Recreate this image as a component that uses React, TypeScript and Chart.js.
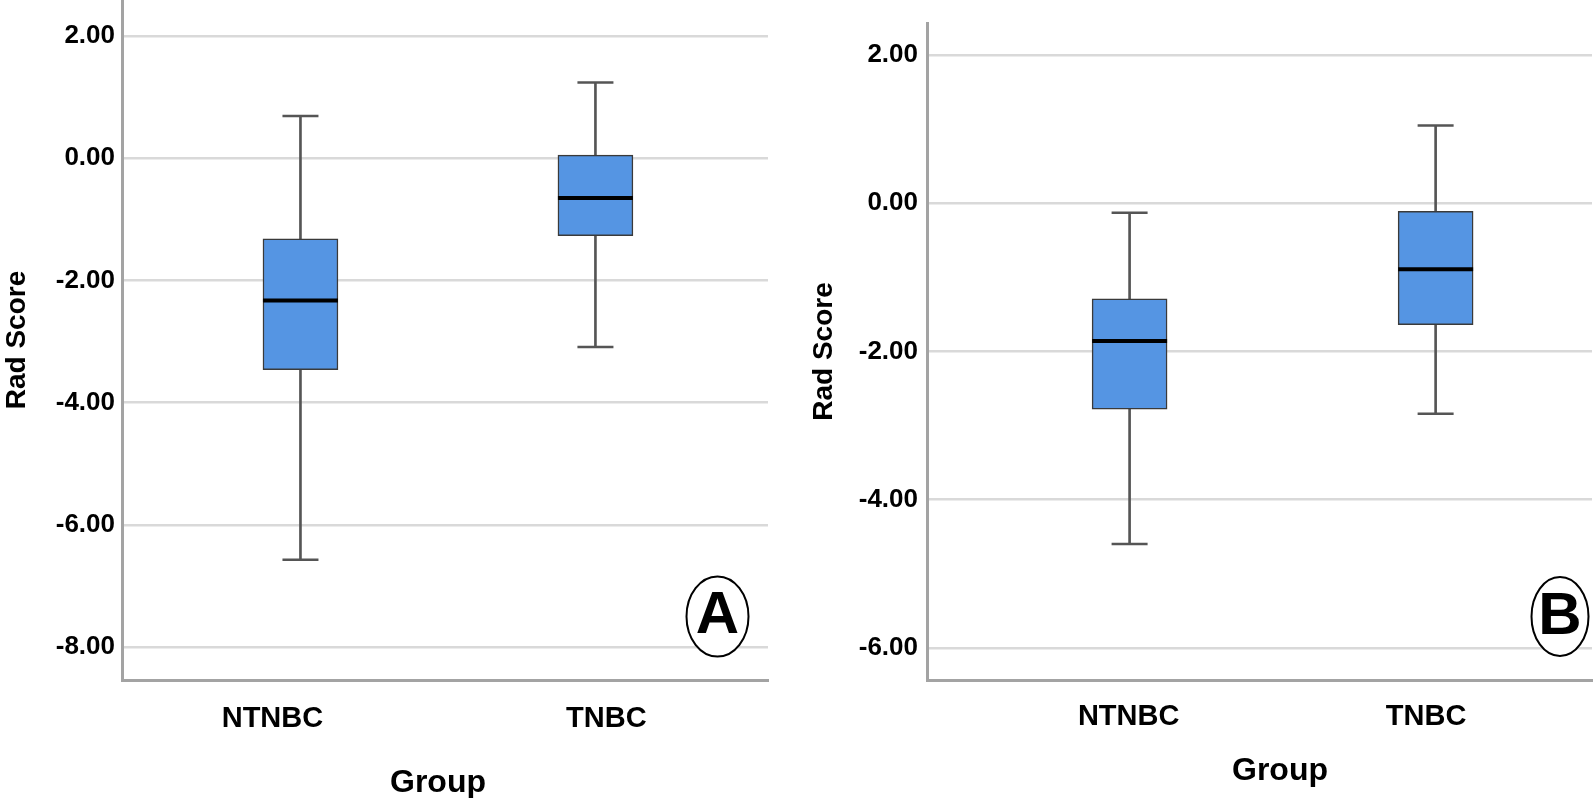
import React, { useEffect, useRef } from 'react';
import { Chart, registerables } from 'chart.js';

Chart.register(...registerables);

// ---------- data ----------
const categories = ['NTNBC', 'TNBC'];

// Panel A (five-number summaries per category)
const aWhiskerLow = [-6.57, -3.09];
const aQ1 = [-3.46, -1.27];
const aMedian = [-2.33, -0.65];
const aQ3 = [-1.32, 0.05];
const aWhiskerHigh = [0.69, 1.24];
const aYTicks = [2, 0, -2, -4, -6, -8];

// Panel B
const bWhiskerLow = [-4.6, -2.84];
const bQ1 = [-2.78, -1.64];
const bMedian = [-1.86, -0.89];
const bQ3 = [-1.29, -0.11];
const bWhiskerHigh = [-0.13, 1.05];
const bYTicks = [2, 0, -2, -4, -6];

const yTitle = 'Rad Score';
const xTitle = 'Group';

// ---------- styling / layout ----------
const FONT = "'Liberation Sans', Arial, Helvetica, sans-serif";
const BOX_FILL = '#5595e3';
const BOX_EDGE = '#3a3a3a';
const WHISKER = '#555555';
const GRID = '#d9d9d9';
const AXIS = '#a3a3a3';

type Panel = {
  letter: string;
  low: number[]; q1: number[]; med: number[]; q3: number[]; high: number[];
  yTicks: number[];
  left: number; width: number;
  yMin: number; yMax: number; xMin: number; xMax: number;
  yAxisWidth: number; padTop: number; padRight: number; xAxisHeight: number;
  labelShift: number[]; tickPadX: number; tickPadY: number; yTitlePad: number;
  xTitlePos: { dx: number; y: number };
  badge: { cx: number; cy: number; rx: number; ry: number; ty: number };
};

const panels: Panel[] = [
  {
    letter: 'A',
    low: aWhiskerLow, q1: aQ1, med: aMedian, q3: aQ3, high: aWhiskerHigh,
    yTicks: aYTicks,
    left: 0, width: 800,
    yMin: -8.54, yMax: 2.589, xMin: -0.605, xMax: 1.585,
    yAxisWidth: 122, padTop: 0, padRight: 32, xAxisHeight: 118,
    labelShift: [-0.095, 0.037], tickPadX: 22, tickPadY: 7, yTitlePad: 3,
    xTitlePos: { dx: -7, y: 783 },
    badge: { cx: 717.5, cy: 616.5, rx: 31, ry: 40, ty: 633 },
  },
  {
    letter: 'B',
    low: bWhiskerLow, q1: bQ1, med: bMedian, q3: bQ3, high: bWhiskerHigh,
    yTicks: bYTicks,
    left: 810, width: 784,
    yMin: -6.435, yMax: 2.432, xMin: -0.662, xMax: 1.511,
    yAxisWidth: 117, padTop: 23, padRight: 2, xAxisHeight: 118,
    labelShift: [-0.003, -0.031], tickPadX: 20, tickPadY: 9, yTitlePad: 0,
    xTitlePos: { dx: 20.5, y: 771 },
    badge: { cx: 750, cy: 616.5, rx: 28.5, ry: 39.5, ty: 633.5 },
  },
];

const badgePlugin = {
  id: 'badge',
  afterDraw(chart: any, _args: any, opts: any) {
    const { ctx } = chart;
    ctx.save();
    ctx.beginPath();
    ctx.ellipse(opts.cx, opts.cy, opts.rx, opts.ry, 0, 0, Math.PI * 2);
    ctx.fillStyle = '#ffffff';
    ctx.fill();
    ctx.lineWidth = 2;
    ctx.strokeStyle = '#000000';
    ctx.stroke();
    ctx.font = `bold 60px ${FONT}`;
    ctx.textAlign = 'center';
    ctx.textBaseline = 'alphabetic';
    ctx.fillStyle = '#000000';
    ctx.fillText(opts.text, opts.cx, opts.ty);
    ctx.restore();
  },
};

// x-axis title, centred on the plot area with a small horizontal nudge
const xTitlePlugin = {
  id: 'xTitle',
  afterDraw(chart: any, _args: any, opts: any) {
    const { ctx, chartArea } = chart;
    ctx.save();
    ctx.font = `bold 32px ${FONT}`;
    ctx.textAlign = 'center';
    ctx.textBaseline = 'middle';
    ctx.fillStyle = '#000000';
    ctx.fillText(opts.text, (chartArea.left + chartArea.right) / 2 + opts.dx, opts.y);
    ctx.restore();
  },
};

function BoxPanel({ p }: { p: Panel }) {
  const ref = useRef<HTMLCanvasElement>(null);
  useEffect(() => {
    const idx = categories.map((_, i) => i);
    const chart = new Chart(ref.current as HTMLCanvasElement, {
      type: 'bar',
      data: {
        datasets: [
          {
            type: 'bar',
            label: 'whisker',
            data: idx.map((i) => ({ x: i, y: [p.low[i], p.high[i]] })) as any,
            backgroundColor: WHISKER,
            barThickness: 2,
            grouped: false,
            order: 4,
          } as any,
          {
            type: 'bar',
            label: 'box',
            data: idx.map((i) => ({ x: i, y: [p.q1[i], p.q3[i]] })) as any,
            backgroundColor: BOX_FILL,
            borderColor: BOX_EDGE,
            borderWidth: 1.5,
            borderSkipped: false,
            barThickness: 75,
            grouped: false,
            order: 3,
          } as any,
          {
            type: 'line',
            label: 'caps',
            data: [
              ...idx.map((i) => ({ x: i, y: p.low[i] })),
              ...idx.map((i) => ({ x: i, y: p.high[i] })),
            ],
            showLine: false,
            pointStyle: 'line',
            pointRadius: 18,
            pointHoverRadius: 18,
            pointBorderWidth: 2.5,
            pointBorderColor: WHISKER,
            order: 2,
          } as any,
          {
            type: 'line',
            label: 'median',
            data: idx.map((i) => ({ x: i, y: p.med[i] })),
            showLine: false,
            pointStyle: 'line',
            pointRadius: 37.5,
            pointHoverRadius: 37.5,
            pointBorderWidth: 4,
            pointBorderColor: '#000000',
            order: 1,
          } as any,
        ],
      },
      options: {
        responsive: false,
        animation: false,
        devicePixelRatio: 1,
        events: [],
        layout: {
          autoPadding: false,
          padding: { left: 0, top: p.padTop, right: p.padRight, bottom: 0 },
        },
        plugins: {
          legend: { display: false },
          tooltip: { enabled: false },
          badge: { ...p.badge, text: p.letter },
          xTitle: { ...p.xTitlePos, text: xTitle },
        } as any,
        scales: {
          x: {
            type: 'linear',
            min: p.xMin,
            max: p.xMax,
            offset: false,
            grid: { display: false, drawTicks: false },
            border: { display: true, color: AXIS, width: 3 },
            afterBuildTicks: (scale: any) => {
              scale.ticks = idx.map((i) => ({ value: i + p.labelShift[i] }));
            },
            afterFit: (scale: any) => {
              scale.height = p.xAxisHeight;
              scale.paddingLeft = 0;
              scale.paddingRight = 0;
            },
            ticks: {
              autoSkip: false,
              maxRotation: 0,
              padding: p.tickPadX,
              color: '#000',
              font: { family: FONT, size: 29, weight: 'bold' },
              callback: (_v: any, index: number) => categories[index],
            },
            title: { display: false },
          } as any,
          y: {
            type: 'linear',
            min: p.yMin,
            max: p.yMax,
            grid: { color: GRID, lineWidth: 2.5, drawTicks: false },
            border: { display: true, color: AXIS, width: 3 },
            afterBuildTicks: (scale: any) => {
              scale.ticks = p.yTicks.map((v) => ({ value: v }));
            },
            afterFit: (scale: any) => {
              scale.width = p.yAxisWidth;
              scale.paddingTop = 0;
              scale.paddingBottom = 0;
            },
            ticks: {
              padding: p.tickPadY,
              color: '#000',
              font: { family: FONT, size: 26, weight: 'bold' },
              callback: (v: any) => Number(v).toFixed(2),
            },
            title: {
              display: true,
              text: yTitle,
              color: '#000',
              padding: { top: p.yTitlePad, bottom: 0 },
              font: { family: FONT, size: 28, weight: 'bold', lineHeight: 1 },
            },
          } as any,
        },
      },
      plugins: [badgePlugin as any, xTitlePlugin as any],
    });
    return () => chart.destroy();
  }, [p]);

  return (
    <canvas
      ref={ref}
      width={p.width}
      height={798}
      style={{ position: 'absolute', left: p.left, top: 0, width: p.width, height: 798 }}
    />
  );
}

export default function App() {
  return (
    <div
      style={{
        position: 'fixed',
        left: 0,
        top: 0,
        width: 1594,
        height: 798,
        background: '#ffffff',
        overflow: 'hidden',
      }}
    >
      {panels.map((p) => (
        <BoxPanel key={p.letter} p={p} />
      ))}
    </div>
  );
}
